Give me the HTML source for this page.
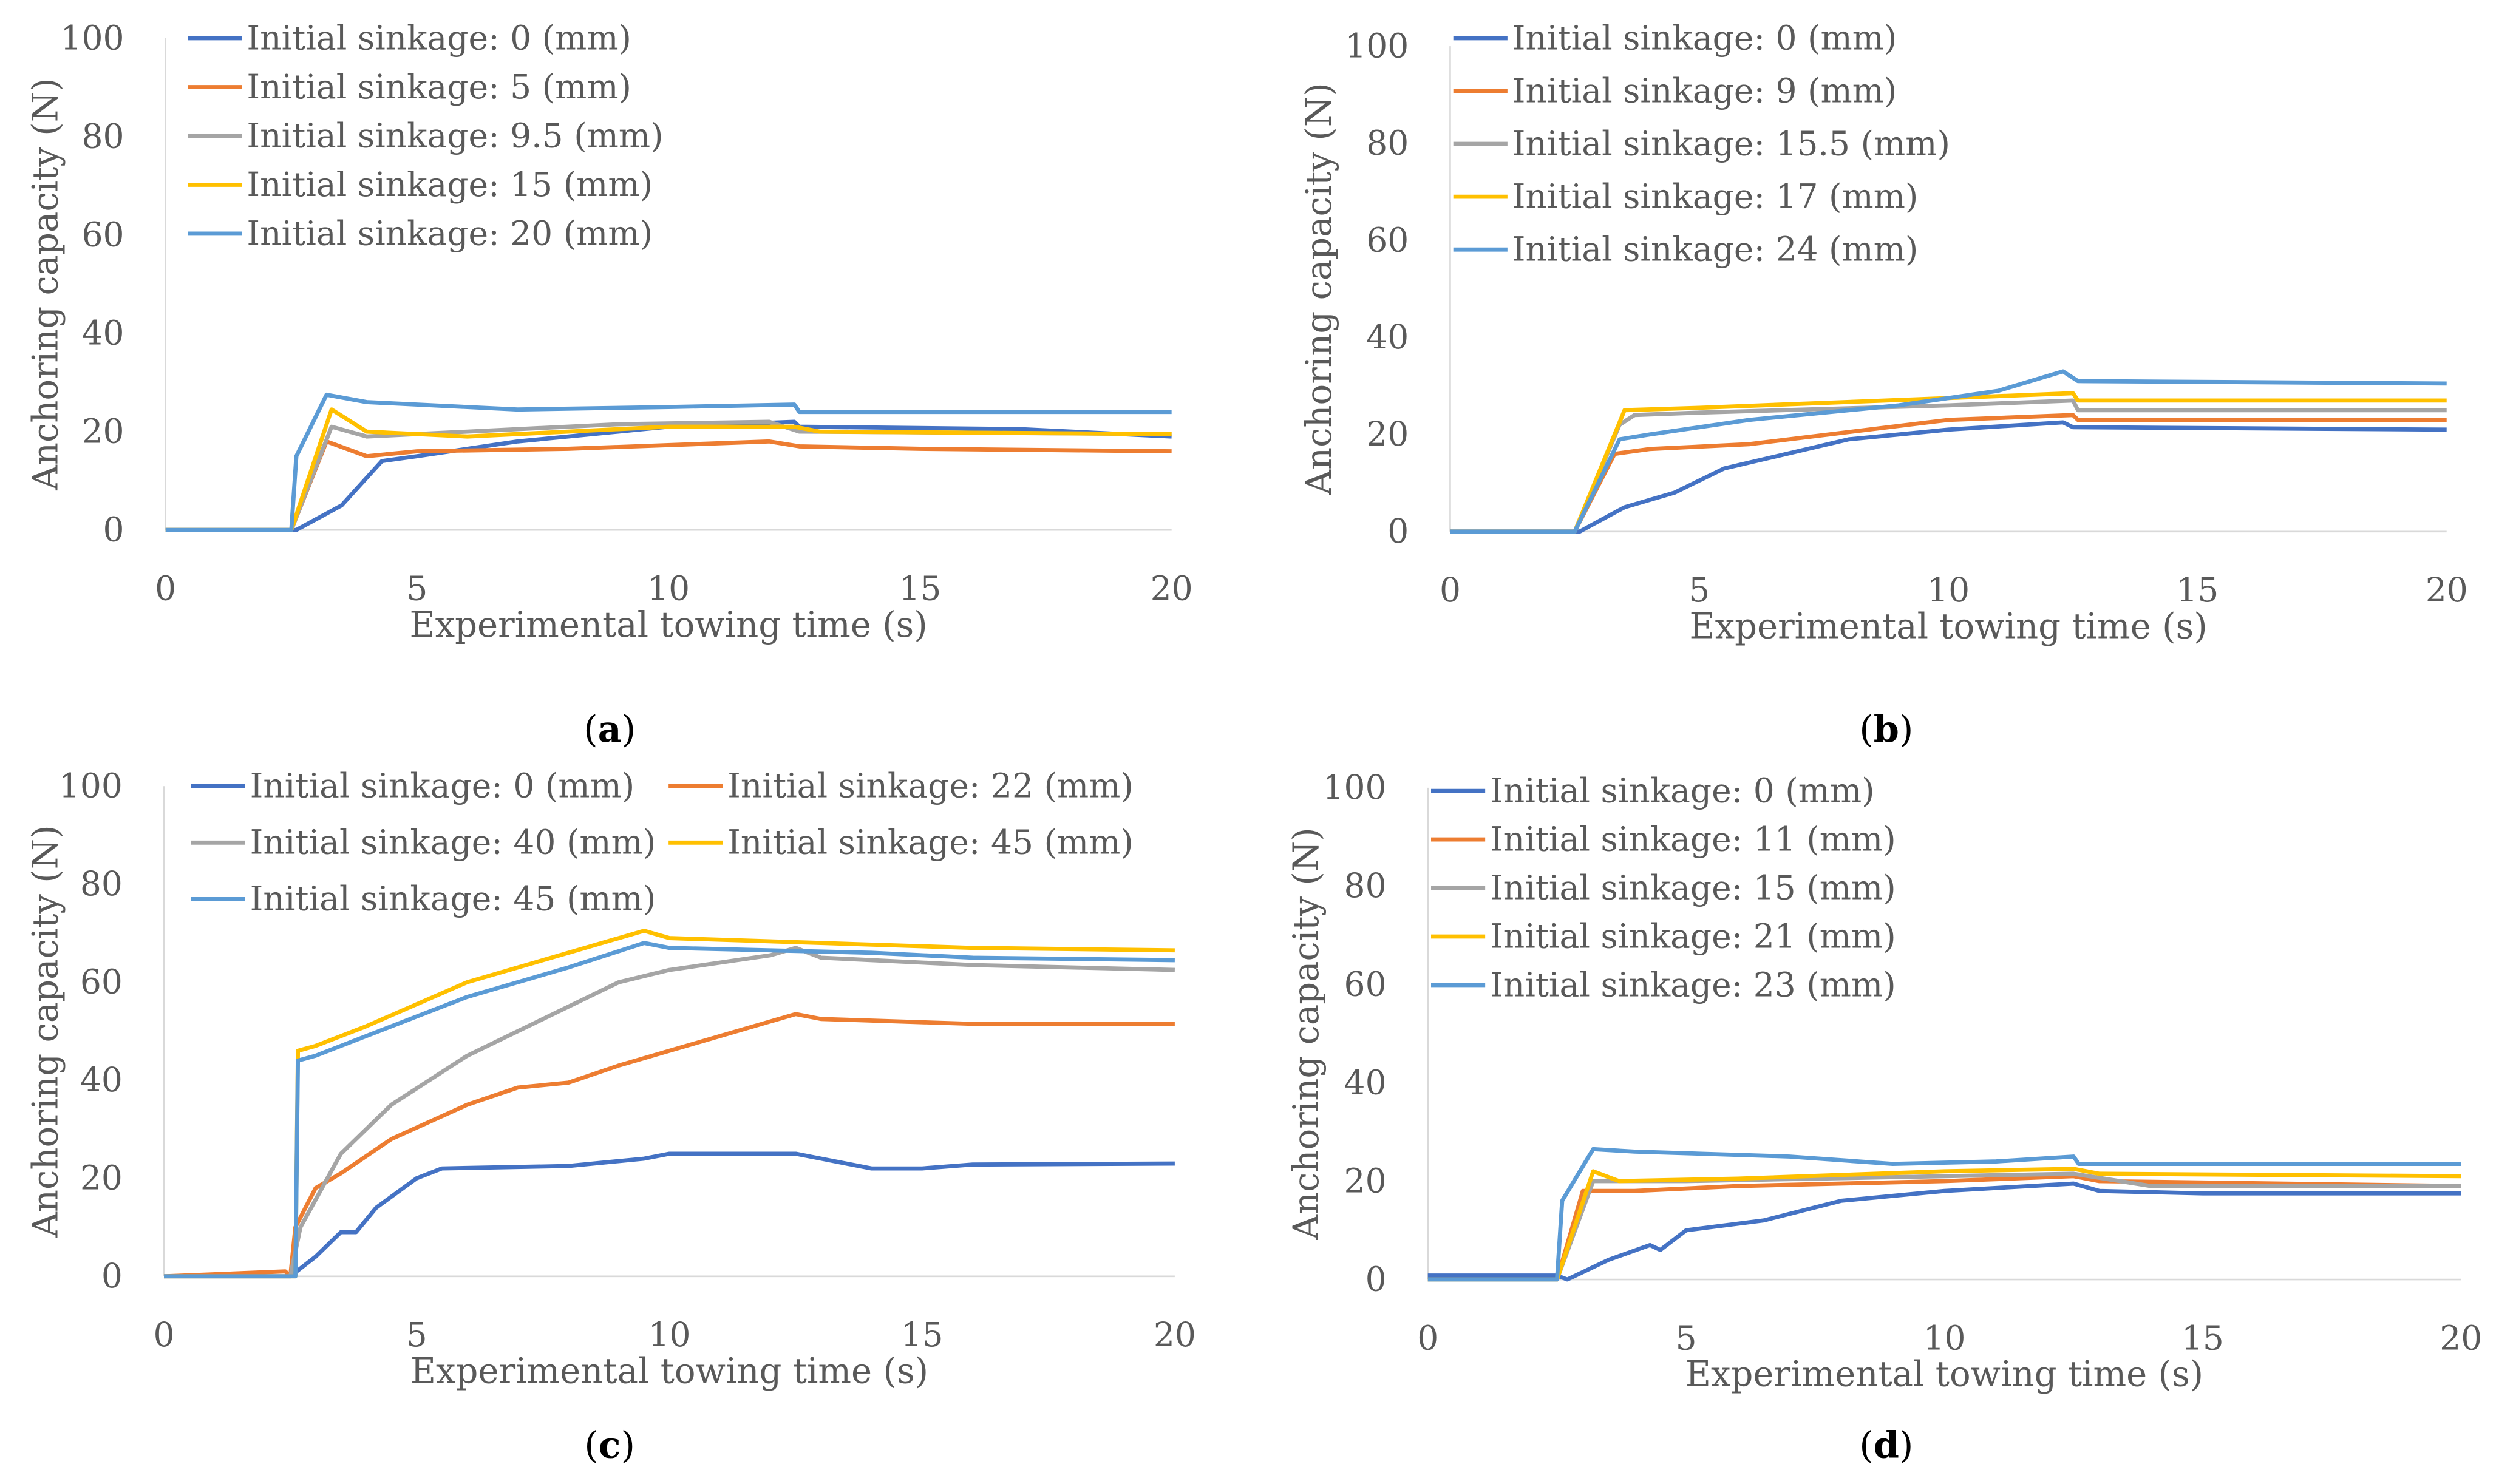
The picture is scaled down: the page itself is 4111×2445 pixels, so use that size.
<!DOCTYPE html>
<html><head><meta charset="utf-8">
<style>
html,body{margin:0;padding:0;background:#fff;}
svg text{font-family:"DejaVu Serif","Liberation Serif",serif;fill:#595959;}
</style></head>
<body>
<svg id="chart" xmlns="http://www.w3.org/2000/svg" width="4111" height="2440" viewBox="0 0 1568 930.6"></svg>
<script>
const NS="http://www.w3.org/2000/svg";
const svg=document.getElementById('chart');
const colors=["#4472C4","#ED7D31","#A5A5A5","#FFC000","#5B9BD5"];
const xTicks=[0,5,10,15,20];
const yTicks=[0,20,40,60,80,100];

const labelsA=["Initial sinkage: 0 (mm)","Initial sinkage: 5 (mm)","Initial sinkage: 9.5 (mm)","Initial sinkage: 15 (mm)","Initial sinkage: 20 (mm)"];
const timesA=[
[0,2.6,3.5,4.3,5,7,10,12.5,12.6,17,20],
[0,2.5,3.2,4,5,8,12,12.6,15,20],
[0,2.5,3.3,4,6,9,12,12.6,20],
[0,2.5,3.3,4,6,10,12.5,13,20],
[0,2.5,2.6,3.2,4,7,10,12.5,12.6,20]];
const valsA=[
[0,0,5,14,15,18,21,22,21,20.5,19],
[0,0,18,15,16,16.5,18,17,16.5,16],
[0,0,21,19,20,21.5,22,20,19.5],
[0,0,24.5,20,19,21,21,20,19.5],
[0,0,15,27.5,26,24.5,25,25.5,24,24]];

const labelsB=["Initial sinkage: 0 (mm)","Initial sinkage: 9 (mm)","Initial sinkage: 15.5 (mm)","Initial sinkage: 17 (mm)","Initial sinkage: 24 (mm)"];
const timesB=[
[0,2.6,3.5,4.5,5.5,8,10,12.3,12.5,20],
[0,2.5,3.3,4,6,10,12.5,12.6,20],
[0,2.5,3.4,3.7,5,10,12.5,12.6,20],
[0,2.5,3.5,5,10,12.5,12.6,20],
[0,2.5,3.4,4,6,9,11,12.3,12.6,20]];
const valsB=[
[0,0,5,8,13,19,21,22.5,21.5,21],
[0,0,16,17,18,23,24,23,23],
[0,0,22,24,24.5,26,27,25,25],
[0,0,25,25.5,27.5,28.5,27,27],
[0,0,19,20,23,26,29,33,31,30.5]];

const labelsC=["Initial sinkage: 0 (mm)","Initial sinkage: 22 (mm)","Initial sinkage: 40 (mm)","Initial sinkage: 45 (mm)","Initial sinkage: 45 (mm)"];
const timesC=[
[0,2.5,3,3.5,3.8,4.2,5,5.5,8,9.5,10,12,12.5,13,14,15,16,20],
[0,2.4,2.5,2.6,3,3.5,4.5,6,7,8,9,11,12.5,13,16,20],
[0,2.5,2.7,3.5,4.5,6,8,9,10,12,12.5,13,16,20],
[0,2.6,2.65,3,4,6,8,9.5,10,13,16,20],
[0,2.6,2.65,3,4,6,8,9.5,10,12,14,16,20]];
const valsC=[
[0,0,4,9,9,14,20,22,22.5,24,25,25,25,24,22,22,22.8,23],
[0,1,0,10,18,21,28,35,38.5,39.5,43,49,53.5,52.5,51.5,51.5],
[0,0,10,25,35,45,55,60,62.5,65.5,67,65,63.5,62.5],
[0,0,46,47,51,60,66,70.5,69,68,67,66.5],
[0,0,44,45,49,57,63,68,67,66.5,66,65,64.5]];

const labelsD=["Initial sinkage: 0 (mm)","Initial sinkage: 11 (mm)","Initial sinkage: 15 (mm)","Initial sinkage: 21 (mm)","Initial sinkage: 23 (mm)"];
const timesD=[
[0,2.5,2.7,3.5,4.3,4.5,5,6.5,8,10,12.5,13,15,20],
[0,2.5,3,4,6,10,12.5,13,20],
[0,2.5,3.2,5,10,12.5,14,20],
[0,2.5,3.2,3.7,6,10,12.5,13,20],
[0,2.5,2.6,3.2,4,7,9,11,12.5,12.6,20]];
const valsD=[
[0.8,0.8,0,4,7,6,10,12,16,18,19.5,18,17.5,17.5],
[0,0,18,18,19,20,21,20,19],
[0,0,20,20,21,21.5,19,19],
[0,0,22,20,20.5,22,22.5,21.5,21],
[0,0,16,26.5,26,25,23.5,24,25,23.5,23.5]];

function el(tag,attrs,parent){const e=document.createElementNS(NS,tag);for(const k in attrs)e.setAttribute(k,attrs[k]);(parent||svg).appendChild(e);return e;}

function panel(cfg){
  const g=el('g',{});
  
  
  const xs=v=>cfg.x0+(cfg.x1-cfg.x0)*v/20;
  const ys=v=>cfg.y0-(cfg.y0-cfg.y100)*v/100;
  const ya=el('line',{x1:cfg.x0,x2:cfg.x0,y1:cfg.y100,y2:cfg.y0,stroke:'#d9d9d9','stroke-width':1},g);
  
  const xa=el('line',{x1:cfg.x0,x2:cfg.x1,y1:cfg.y0,y2:cfg.y0,stroke:'#d9d9d9','stroke-width':1},g);
  
  yTicks.forEach(v=>{const t=el('text',{x:cfg.x0-26,y:ys(v)+7,'text-anchor':'end','font-size':21},g);t.textContent=v;
    });
  xTicks.forEach(v=>{const t=el('text',{x:xs(v),y:cfg.y0+44,'text-anchor':'middle','font-size':21},g);t.textContent=v;
    });
  const xt=el('text',{x:(cfg.x0+cfg.x1)/2,y:cfg.y0+67,'text-anchor':'middle','font-size':22},g);xt.textContent='Experimental towing time (s)';
  
  const yc=(cfg.y0+cfg.y100)/2;
  const yt=el('text',{x:cfg.yTitleX,y:yc,'text-anchor':'middle','font-size':22,transform:`rotate(-90 ${cfg.yTitleX} ${yc})`},g);yt.textContent='Anchoring capacity (N)';
  
  cfg.times.forEach((ts,i)=>{
    const pts=ts.map((t,j)=>xs(t).toFixed(2)+','+ys(cfg.vals[i][j]).toFixed(2)).join(' ');
    const p=el('polyline',{points:pts,fill:'none',stroke:colors[i],'stroke-width':2.6,'stroke-linejoin':'round'},g);
    
  });
  cfg.labels.forEach((lab,i)=>{
    const [lx,ly]=cfg.leg(i);
    const lg=el('g',{},g);
    
    el('line',{x1:lx,x2:lx+34,y1:ly,y2:ly,stroke:colors[i],'stroke-width':2.6},lg);
    const t=el('text',{x:lx+37,y:ly+7,'font-size':21},lg);t.textContent=lab;
  });
  const pl=el('text',{x:cfg.labX,y:cfg.labY,'text-anchor':'middle','font-size':23,style:'fill:#000'},g);
  
  pl.innerHTML='(<tspan font-weight="bold">'+cfg.id+'</tspan>)';
}
panel({id:'a',x0:104,x1:736,y0:333,y100:24,yTitleX:36,labels:labelsA,times:timesA,vals:valsA,
  leg:i=>[118,24+i*30.7],labX:383,labY:466});
panel({id:'b',x0:911,x1:1537,y0:334,y100:29,yTitleX:836,labels:labelsB,times:timesB,vals:valsB,
  leg:i=>[913,24+i*33.2],labX:1185,labY:466});
panel({id:'c',x0:103,x1:738,y0:802,y100:494,yTitleX:36,labels:labelsC,times:timesC,vals:valsC,
  leg:i=>[i%2?420:120,494+Math.floor(i/2)*35.5],labX:383,labY:916});
panel({id:'d',x0:897,x1:1546,y0:804,y100:495,yTitleX:828,labels:labelsD,times:timesD,vals:valsD,
  leg:i=>[899,497+i*30.5],labX:1185,labY:916});
</script>
</body></html>
